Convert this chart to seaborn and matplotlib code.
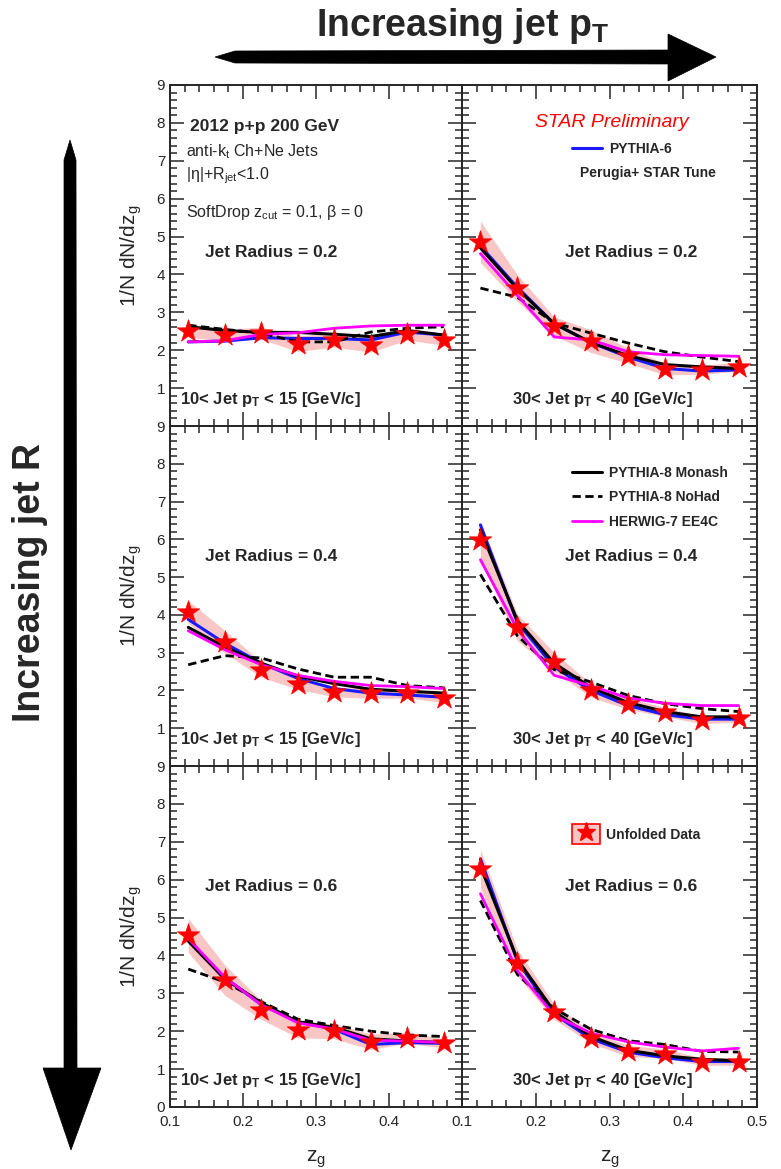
import numpy as np
import pandas as pd
import matplotlib
matplotlib.use('Agg')
import matplotlib.pyplot as plt
import seaborn as sns
from matplotlib.lines import Line2D
from matplotlib.patches import Patch, Polygon
from matplotlib.legend_handler import HandlerTuple
from matplotlib.ticker import MultipleLocator

# ---------------- data ----------------
ZG = [0.125, 0.175, 0.225, 0.275, 0.325, 0.375, 0.425, 0.475]

# R = 0.2, 10 < pT < 15
DATA_R02_LO = [2.52, 2.40, 2.45, 2.17, 2.28, 2.15, 2.42, 2.28]
ERR_R02_LO = [0.18, 0.15, 0.16, 0.20, 0.20, 0.20, 0.15, 0.15]
P6_R02_LO = [2.22, 2.24, 2.33, 2.31, 2.31, 2.27, 2.48, 2.40]
P8_R02_LO = [2.62, 2.52, 2.47, 2.47, 2.42, 2.36, 2.52, 2.40]
NOHAD_R02_LO = [2.66, 2.55, 2.45, 2.22, 2.22, 2.48, 2.58, 2.62]
HW_R02_LO = [2.22, 2.25, 2.42, 2.46, 2.58, 2.64, 2.66, 2.66]

# R = 0.2, 30 < pT < 40
DATA_R02_HI = [4.86, 3.64, 2.63, 2.24, 1.86, 1.50, 1.48, 1.57]
ERR_R02_HI = [0.55, 0.35, 0.25, 0.30, 0.20, 0.15, 0.12, 0.12]
P6_R02_HI = [4.75, 3.66, 2.70, 2.20, 1.82, 1.52, 1.45, 1.48]
P8_R02_HI = [4.70, 3.62, 2.70, 2.20, 1.86, 1.62, 1.56, 1.52]
NOHAD_R02_HI = [3.64, 3.40, 2.72, 2.45, 2.19, 1.96, 1.82, 1.70]
HW_R02_HI = [4.55, 3.45, 2.35, 2.27, 1.96, 1.88, 1.86, 1.84]

# R = 0.4, 10 < pT < 15
DATA_R04_LO = [4.08, 3.29, 2.55, 2.18, 1.96, 1.92, 1.92, 1.80]
ERR_R04_LO = [0.30, 0.30, 0.20, 0.15, 0.13, 0.13, 0.12, 0.12]
P6_R04_LO = [3.88, 3.25, 2.72, 2.32, 2.05, 1.93, 1.88, 1.82]
P8_R04_LO = [3.67, 3.15, 2.72, 2.38, 2.18, 2.03, 1.98, 1.93]
NOHAD_R04_LO = [2.68, 2.92, 2.86, 2.57, 2.35, 2.35, 2.13, 2.07]
HW_R04_LO = [3.58, 3.08, 2.68, 2.40, 2.24, 2.13, 2.10, 2.05]

# R = 0.4, 30 < pT < 40
DATA_R04_HI = [5.98, 3.67, 2.75, 2.00, 1.65, 1.43, 1.22, 1.26]
ERR_R04_HI = [0.50, 0.35, 0.25, 0.18, 0.15, 0.12, 0.10, 0.10]
P6_R04_HI = [6.38, 3.80, 2.62, 2.00, 1.60, 1.36, 1.24, 1.24]
P8_R04_HI = [6.25, 3.85, 2.72, 2.08, 1.68, 1.44, 1.30, 1.30]
NOHAD_R04_HI = [5.07, 3.45, 2.55, 2.22, 1.87, 1.65, 1.52, 1.44]
HW_R04_HI = [5.46, 3.62, 2.40, 2.12, 1.80, 1.66, 1.60, 1.60]

# R = 0.6, 10 < pT < 15
DATA_R06_LO = [4.53, 3.35, 2.56, 2.03, 2.00, 1.72, 1.83, 1.68]
ERR_R06_LO = [0.45, 0.40, 0.25, 0.20, 0.20, 0.20, 0.15, 0.12]
P6_R06_LO = [4.40, 3.42, 2.70, 2.25, 2.05, 1.65, 1.70, 1.68]
P8_R06_LO = [4.38, 3.38, 2.75, 2.25, 2.10, 1.80, 1.74, 1.70]
NOHAD_R06_LO = [3.64, 3.30, 2.78, 2.32, 2.15, 2.00, 1.90, 1.86]
HW_R06_LO = [4.45, 3.42, 2.70, 2.22, 2.06, 1.76, 1.74, 1.70]

# R = 0.6, 30 < pT < 40
DATA_R06_HI = [6.29, 3.81, 2.51, 1.83, 1.48, 1.41, 1.20, 1.20]
ERR_R06_HI = [0.50, 0.35, 0.20, 0.15, 0.15, 0.12, 0.10, 0.10]
P6_R06_HI = [6.55, 3.85, 2.45, 1.80, 1.45, 1.30, 1.20, 1.20]
P8_R06_HI = [6.35, 3.90, 2.52, 1.86, 1.50, 1.35, 1.26, 1.22]
NOHAD_R06_HI = [5.45, 3.50, 2.60, 2.05, 1.75, 1.65, 1.47, 1.45]
HW_R06_HI = [5.63, 3.60, 2.42, 1.95, 1.72, 1.58, 1.48, 1.55]

RADII = ["0.2", "0.4", "0.6"]
PT_LABELS = ["10< Jet p$_{\\mathbf{T}}$ < 15 [GeV/c]", "30< Jet p$_{\\mathbf{T}}$ < 40 [GeV/c]"]
X_TICKS_LEFT = [0.1, 0.2, 0.3, 0.4]
X_TICKS_RIGHT = [0.1, 0.2, 0.3, 0.4, 0.5]

PANEL_DATA = [
    [(DATA_R02_LO, ERR_R02_LO, P6_R02_LO, P8_R02_LO, NOHAD_R02_LO, HW_R02_LO),
     (DATA_R02_HI, ERR_R02_HI, P6_R02_HI, P8_R02_HI, NOHAD_R02_HI, HW_R02_HI)],
    [(DATA_R04_LO, ERR_R04_LO, P6_R04_LO, P8_R04_LO, NOHAD_R04_LO, HW_R04_LO),
     (DATA_R04_HI, ERR_R04_HI, P6_R04_HI, P8_R04_HI, NOHAD_R04_HI, HW_R04_HI)],
    [(DATA_R06_LO, ERR_R06_LO, P6_R06_LO, P8_R06_LO, NOHAD_R06_LO, HW_R06_LO),
     (DATA_R06_HI, ERR_R06_HI, P6_R06_HI, P8_R06_HI, NOHAD_R06_HI, HW_R06_HI)],
]

# ---------------- style ----------------
sns.set_style('ticks')
plt.rcParams['font.family'] = ['Liberation Sans', 'DejaVu Sans']
plt.rcParams['mathtext.fontset'] = 'custom'
plt.rcParams['mathtext.rm'] = 'Liberation Sans'
plt.rcParams['mathtext.it'] = 'Liberation Sans:italic'
plt.rcParams['mathtext.bf'] = 'Liberation Sans:bold'
plt.rcParams['axes.linewidth'] = 1.4

BLUE = '#1a1aff'
MAGENTA = '#ff00ff'
BAND = '#f9c6c6'
RED = '#ff0000'

W, H = 781, 1169
fig = plt.figure(figsize=(W / 100, H / 100), dpi=100)

COL_X = [170, 462, 757]
ROW_Y = [85, 426, 766, 1107]

for r in range(3):
    for c in range(2):
        x0, x1 = COL_X[c], COL_X[c + 1]
        y0, y1 = ROW_Y[r], ROW_Y[r + 1]
        ax = fig.add_axes([x0 / W, 1 - y1 / H, (x1 - x0) / W, (y1 - y0) / H])
        data, err, p6, p8, nohad, hw = PANEL_DATA[r][c]
        d = np.array(data)
        e = np.array(err)
        ax.fill_between(ZG, d - e, d + e, color=BAND, lw=0, zorder=1)
        sns.lineplot(x=ZG, y=p6, ax=ax, color=BLUE, lw=2.2, zorder=2)
        sns.lineplot(x=ZG, y=p8, ax=ax, color='black', lw=2.2, zorder=3)
        sns.lineplot(x=ZG, y=nohad, ax=ax, color='black', lw=2.0, zorder=3,
                     linestyle=(0, (3.0, 1.6)))
        sns.lineplot(x=ZG, y=hw, ax=ax, color=MAGENTA, lw=2.0, zorder=4)
        sns.scatterplot(x=ZG, y=data, ax=ax, marker='*', s=290, color=RED,
                        edgecolor=RED, linewidth=0.5, zorder=5)

        ax.set_xlim(0.1, 0.5)
        ax.set_ylim(0, 9)
        ax.xaxis.set_major_locator(MultipleLocator(0.1))
        ax.xaxis.set_minor_locator(MultipleLocator(0.02))
        ax.yaxis.set_major_locator(MultipleLocator(1))
        ax.yaxis.set_minor_locator(MultipleLocator(0.2))
        ax.tick_params(which='both', direction='in', top=True, right=True,
                       bottom=True, left=True, width=1.1, labelsize=11)
        ax.tick_params(which='major', length=10)
        ax.tick_params(which='minor', length=5)
        for sp in ax.spines.values():
            sp.set_visible(True)
            sp.set_linewidth(1.4)

        if c == 0:
            ticks = list(range(0, 10)) if r == 2 else list(range(1, 10))
            ax.set_yticks(ticks)
            ax.set_yticklabels([str(t) for t in ticks])
            ax.set_ylabel('1/N dN/dz$_{\\rm g}$', fontsize=15, labelpad=9)
        else:
            ax.set_yticklabels([])
        if r == 2:
            xt = X_TICKS_LEFT if c == 0 else X_TICKS_RIGHT
            ax.set_xticks(xt)
            ax.set_xticklabels(['%.1f' % t for t in xt])
            ax.tick_params(axis='x', pad=6)
            ax.set_xlabel('z$_{\\rm g}$', fontsize=15, labelpad=14)
        else:
            ax.set_xticklabels([])

        # texts
        jr_x = 0.12 if c == 0 else 0.35
        jr_y = {0: 0.51, 1: 0.617, 2: 0.648}[r]
        ax.text(jr_x, jr_y, 'Jet Radius = ' + RADII[r], transform=ax.transAxes,
                fontsize=12.5, fontweight='bold', ha='left', va='center')
        pt_x = 0.035 if c == 0 else 0.17
        ax.text(pt_x, 0.078, PT_LABELS[c], transform=ax.transAxes,
                fontsize=12, fontweight='bold', ha='left', va='center')

        if r == 0 and c == 0:
            ax.text(0.07, 0.877, '2012 p+p 200 GeV', transform=ax.transAxes,
                    fontsize=12.5, fontweight='bold', va='center')
            ax.text(0.055, 0.805, 'anti-k$_{\\rm t}$ Ch+Ne Jets', transform=ax.transAxes,
                    fontsize=11.5, va='center')
            ax.text(0.055, 0.735, '|η|+R$_{\\rm jet}$<1.0', transform=ax.transAxes,
                    fontsize=11.5, va='center')
            ax.text(0.055, 0.627, 'SoftDrop z$_{\\rm cut}$ = 0.1, β = 0',
                    transform=ax.transAxes, fontsize=11.5, va='center')
        if r == 0 and c == 1:
            ax.text(0.247, 0.89, 'STAR Preliminary', transform=ax.transAxes,
                    fontsize=14, style='italic', color=RED, va='center')
            ax.legend(handles=[Line2D([], [], color=BLUE, lw=2.2)],
                      labels=['PYTHIA-6'], loc='center left',
                      bbox_to_anchor=(0.33, 0.812), frameon=False,
                      handlelength=2.2, handletextpad=0.5,
                      prop={'weight': 'bold', 'size': 10})
            ax.text(0.40, 0.742, 'Perugia+ STAR Tune', transform=ax.transAxes,
                    fontsize=10, fontweight='bold', va='center')
        if r == 1 and c == 1:
            handles = [Line2D([], [], color='black', lw=2.2),
                       Line2D([], [], color='black', lw=2.0, linestyle=(0, (3.0, 1.6))),
                       Line2D([], [], color=MAGENTA, lw=2.0)]
            labels = ['PYTHIA-8 Monash', 'PYTHIA-8 NoHad', 'HERWIG-7 EE4C']
            ax.legend(handles=handles, labels=labels, loc='upper left',
                      bbox_to_anchor=(0.33, 0.92), frameon=False,
                      handlelength=2.2, handletextpad=0.5, labelspacing=0.75,
                      prop={'weight': 'bold', 'size': 10})
        if r == 2 and c == 1:
            h = (Patch(facecolor=BAND, edgecolor=RED, lw=1.2),
                 Line2D([], [], color=RED, marker='*', markersize=14, lw=0))
            ax.legend(handles=[h], labels=['Unfolded Data'], loc='center left',
                      bbox_to_anchor=(0.33, 0.80), frameon=False,
                      handler_map={tuple: HandlerTuple(ndivide=1, pad=0)},
                      handlelength=2.0, handleheight=1.8, handletextpad=0.45,
                      prop={'weight': 'bold', 'size': 10})

# ---------------- overlay arrows ----------------
ov = fig.add_axes([0, 0, 1, 1], zorder=-5)
ov.set_xlim(0, W)
ov.set_ylim(H, 0)
ov.axis('off')

harrow = Polygon([(215, 57), (235, 51), (668, 50), (668, 34), (716, 57),
                  (668, 81), (668, 64), (235, 63)], closed=True,
                 facecolor='black', edgecolor='black', lw=0.5)
ov.add_patch(harrow)
varrow = Polygon([(70, 140), (76, 160), (77, 1068), (101, 1068), (71, 1150),
                  (43, 1068), (64, 1068), (64, 160)], closed=True,
                 facecolor='black', edgecolor='black', lw=0.5)
ov.add_patch(varrow)

ov.text(463, 26, 'Increasing jet p$_{\\mathbf{T}}$', fontsize=27, fontweight='bold',
        ha='center', va='center')
ov.text(30, 582, 'Increasing jet R', fontsize=27, fontweight='bold',
        ha='center', va='center', rotation=90)

fig.savefig('out.png', dpi=100)
